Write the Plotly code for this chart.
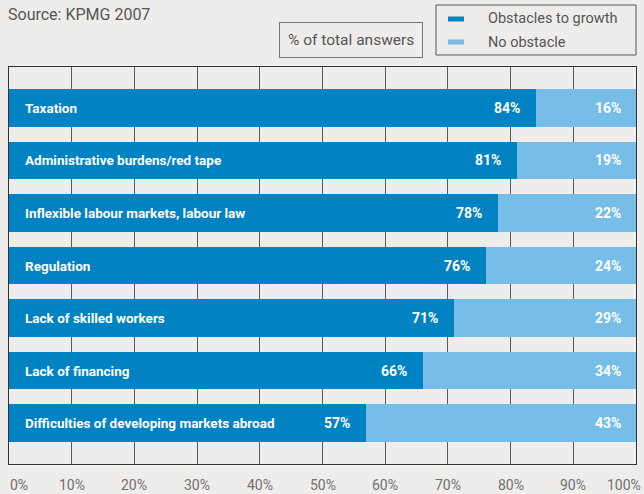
import plotly.graph_objects as go

categories = [
    "Taxation",
    "Administrative burdens/red tape",
    "Inflexible labour markets, labour law",
    "Regulation",
    "Lack of skilled workers",
    "Lack of financing",
    "Difficulties of developing markets abroad",
]
obstacles = [84, 81, 78, 76, 71, 66, 57]
no_obstacle = [16, 19, 22, 24, 29, 34, 43]
series_names = ["Obstacles to growth", "No obstacle"]
tick_values = [0, 10, 20, 30, 40, 50, 60, 70, 80, 90, 100]
tick_labels = ["0%", "10%", "20%", "30%", "40%", "50%", "60%", "70%", "80%", "90%", "100%"]

DARK = "#0082c3"
LIGHT = "#76bde8"
BG = "#eeedeb"
GRID = "#5a5a5a"
FONT = "Roboto"

# plot area in pixels
W, H = 644, 494
L, R, T, B = 9, 8, 67, 30
PW, PH = W - L - R, H - T - B


def px(x):
    return (x - L) / PW


def py(y):
    return (H - B - y) / PH


fig = go.Figure()
for vals, col, name in [(obstacles, DARK, series_names[0]), (no_obstacle, LIGHT, series_names[1])]:
    fig.add_trace(go.Bar(
        y=categories, x=vals, orientation="h", name=name,
        marker=dict(color=col, line=dict(width=0)),
        hoverinfo="skip", showlegend=False,
    ))

# value labels at the right end of each segment
for cat, a, b in zip(categories, obstacles, no_obstacle):
    fig.add_annotation(
        x=a, y=cat, xref="x", yref="y", text=f"<b>{a}%</b>", xshift=-14,
        showarrow=False, xanchor="right", yanchor="middle",
        font=dict(family=FONT, size=14, color="white"),
    )
    fig.add_annotation(
        x=a + b, y=cat, xref="x", yref="y", text=f"<b>{b}%</b>", xshift=-13,
        showarrow=False, xanchor="right", yanchor="middle",
        font=dict(family=FONT, size=14, color="white"),
    )

# category names written inside the dark bars
for cat in categories:
    fig.add_annotation(
        x=2.2, y=cat, xref="x", yref="y", text=f"<b>{cat}</b>",
        showarrow=False, xanchor="left", yanchor="middle",
        font=dict(family=FONT, size=13.5, color="white"),
    )

# percentage scale under the plot
for v, lab in zip(tick_values, tick_labels):
    anchor = "left" if v == 0 else ("right" if v == 100 else "center")
    shift = -1 if v == 0 else (7 if v == 100 else 0)
    fig.add_annotation(
        x=v, y=0, xref="x", yref="paper", yshift=-21, xshift=shift,
        text=lab, showarrow=False, xanchor=anchor, yanchor="middle",
        font=dict(family=FONT, size=14, color="#707070"),
    )

fig.add_annotation(
    x=px(14), y=py(0), xref="paper", yref="paper",
    text="Source: KPMG 2007", showarrow=False, xanchor="left", yanchor="top",
    xshift=-8, yshift=-3,
    font=dict(family=FONT, size=16, color="#555555"),
)
fig.add_annotation(
    x=px(350.5), y=py(40), xref="paper", yref="paper",
    text="% of total answers", showarrow=False, xanchor="center", yanchor="middle",
    bordercolor="#777777", borderwidth=1, borderpad=8, bgcolor=BG,
    font=dict(family=FONT, size=15.5, color="#555555"),
)

# legend box
shapes = [dict(
    type="rect", xref="paper", yref="paper",
    x0=px(436), x1=px(636), y0=py(55), y1=py(5),
    line=dict(color="#555555", width=1), fillcolor=BG,
)]
for name, col, yc in [(series_names[0], DARK, 19), (series_names[1], LIGHT, 42)]:
    shapes.append(dict(
        type="rect", xref="paper", yref="paper",
        x0=px(448), x1=px(464), y0=py(yc + 2.5), y1=py(yc - 2.5),
        line=dict(width=0), fillcolor=col,
    ))
    fig.add_annotation(
        x=px(486), y=py(yc), xref="paper", yref="paper", text=name,
        showarrow=False, xanchor="left", yanchor="middle",
        font=dict(family=FONT, size=14.5, color="#555555"),
    )

fig.update_layout(
    width=W, height=H,
    margin=dict(l=L, r=R, t=T, b=B),
    paper_bgcolor=BG, plot_bgcolor=BG,
    barmode="stack", bargap=0.282,
    showlegend=False,
    shapes=shapes,
    xaxis=dict(
        range=[0, 100], tickvals=tick_values, showticklabels=False,
        showgrid=True, gridcolor=GRID, gridwidth=1, zeroline=False,
        showline=True, linecolor="#333333", linewidth=1, mirror=True,
        fixedrange=True,
    ),
    yaxis=dict(
        autorange=False, range=[6.78, -0.78], showticklabels=False,
        showgrid=False, zeroline=False,
        showline=True, linecolor="#333333", linewidth=1, mirror=True,
        fixedrange=True,
    ),
)

fig.write_html("out.html")
